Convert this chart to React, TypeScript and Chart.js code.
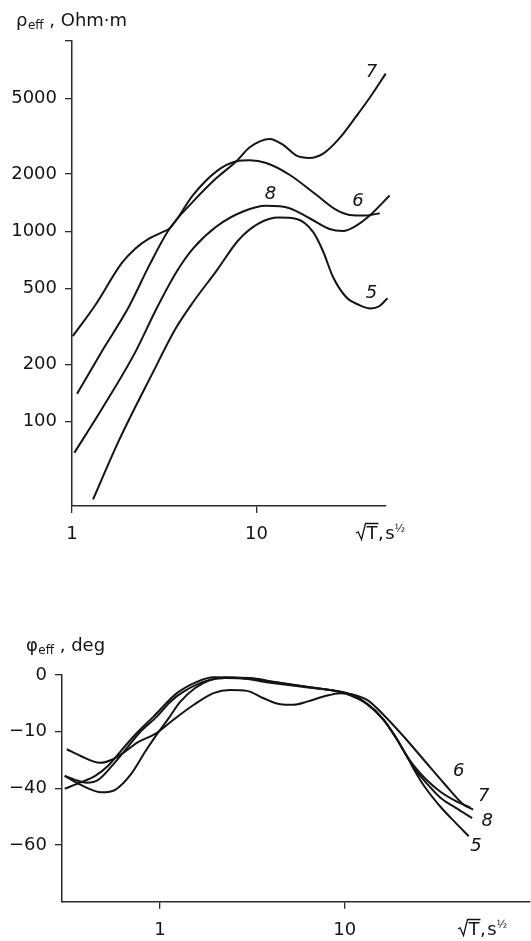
import React, { useEffect, useRef } from 'react';
import { Chart, registerables } from 'chart.js';

Chart.register(...registerables);

const INK = '#141414';
const AXIS_INK = '#2b2b2b';
const FAMILY = '"DejaVu Sans", "Liberation Sans", Arial, sans-serif';

// Effective resistivity ρeff (Ohm·m) against √T (s^½), curves 5–8
const rho5T = [1.3, 1.78, 2.72, 3.66, 4.54, 6.07, 8.0, 10.3, 13.2, 16.5, 20.3, 22.9, 26.0, 30.7, 36.0, 41.5, 46.5, 51.3];
const rho5 = [39, 78, 178, 310, 425, 620, 900, 1100, 1180, 1160, 990, 790, 575, 450, 410, 393, 405, 445];
const rho6T = [1.01, 1.33, 1.86, 2.2, 2.64, 3.09, 3.39, 4.54, 6.07, 7.79, 9.2, 11.3, 15.1, 21.1, 27.1, 32.0, 39.4, 46.6];
const rho6 = [281, 406, 680, 810, 920, 990, 1037, 1555, 2065, 2332, 2361, 2285, 1982, 1555, 1295, 1219, 1210, 1245];
const rho7T = [1.065, 1.44, 2.03, 2.64, 3.39, 4.54, 6.07, 7.79, 9.2, 11.8, 13.9, 16.5, 19.4, 23.0, 28.3, 34.8, 41.1, 50.2];
const rho7 = [140, 231, 400, 670, 1037, 1435, 1904, 2332, 2765, 3058, 2853, 2497, 2430, 2560, 3096, 4030, 5033, 6740];
const rho8T = [1.03, 1.44, 2.2, 2.87, 3.69, 4.54, 6.07, 8.46, 11.3, 15.1, 19.4, 24.9, 29.5, 34.8, 41.1, 52.7];
const rho8 = [68.6, 115, 231, 392, 613, 813, 1059, 1270, 1360, 1322, 1171, 1028, 1004, 1072, 1210, 1543];

// Effective phase φeff (deg) against √T (s^½), curves 5–8
const phi5T = [0.313, 0.37, 0.474, 0.549, 0.622, 0.765, 0.942, 1.183, 1.519, 1.949, 2.401, 2.956, 3.637, 4.479, 5.287, 6.25, 7.688, 9.467, 11.13, 13.21, 16.24, 18.8, 21.76, 24.13, 27.33, 32.95, 39.72, 46.9];
const phi5 = [-26.2, -28.5, -31.0, -29.9, -27.8, -23.6, -20.8, -15.8, -10.6, -6.4, -5.3, -5.6, -8.2, -10.3, -10.5, -9.4, -7.6, -6.4, -7.0, -10.2, -15.8, -21.8, -28.8, -34.2, -39.8, -46.5, -52.1, -56.9];
const phi6T = [0.305, 0.37, 0.446, 0.524, 0.609, 0.734, 0.922, 1.235, 1.585, 1.949, 2.61, 3.954, 5.748, 8.675, 10.33, 13.21, 16.24, 20.85, 26.76, 34.34, 44.07, 49.55];
const phi6 = [-40.1, -38.0, -35.6, -32.0, -27.1, -21.1, -14.7, -6.4, -2.4, -0.8, -0.95, -2.7, -4.1, -5.5, -6.4, -8.8, -14.1, -21.7, -29.9, -38.1, -45.8, -47.5];
const phi7T = [0.305, 0.347, 0.403, 0.463, 0.551, 0.662, 0.781, 0.962, 1.136, 1.341, 1.795, 2.256, 3.08, 4.105, 6.25, 8.675, 10.33, 13.21, 16.24, 18.8, 21.76, 24.13, 27.33, 32.95, 39.72, 47.9];
const phi7 = [-35.6, -37.0, -38.0, -37.0, -32.0, -25.8, -20.1, -14.7, -9.5, -5.9, -2.0, -1.06, -1.4, -2.46, -4.23, -5.5, -6.7, -10.2, -15.8, -21.8, -28.8, -32.7, -36.6, -41.2, -44.4, -46.8];
const phi8T = [0.305, 0.37, 0.484, 0.572, 0.704, 0.831, 0.966, 1.108, 1.286, 1.551, 1.87, 2.256, 3.08, 4.105, 6.25, 8.675, 10.33, 13.21, 16.24, 18.8, 21.76, 24.13, 27.33, 32.95, 39.72, 48.93];
const phi8 = [-35.6, -38.7, -41.4, -40.5, -34.6, -27.1, -20.8, -15.5, -9.5, -4.58, -1.76, -0.88, -1.06, -2.36, -4.12, -5.5, -6.7, -10.2, -15.8, -21.8, -28.8, -33.5, -37.7, -43.3, -46.8, -50.5];

// Axis ticks and their printed labels
const PERIOD_TICKS = [1, 10];
const PERIOD_TICK_LABELS = ['1', '10'];
const RHO_TICKS = [100, 200, 500, 1000, 2000, 5000, 10000];
const RHO_TICK_LABELS = ['100', '200', '500', '1000', '2000', '5000', ''];
const PHI_TICKS = [0, -20, -40, -60];
const PHI_TICK_LABELS = ['0', '−10', '−40', '−60'];

// Curve numbers and where they are written
const CURVE_NAMES = ['5', '6', '7', '8'];
const rhoLabelT = [42.0, 35.5, 42.0, 11.9];
const rhoLabelV = [471, 1435, 6821, 1567];
const phiLabelT = [51.4, 41.4, 56.6, 59.0];
const phiLabelV = [-60.5, -34.0, -42.9, -51.7];

const pts = (ts: number[], vs: number[]) => ts.map((t, i) => ({ x: t, y: vs[i] }));

const curve = (name: string, ts: number[], vs: number[]) => ({
  label: name,
  data: pts(ts, vs),
  borderColor: INK,
  borderWidth: 2,
  pointRadius: 0,
  fill: false,
  cubicInterpolationMode: 'monotone' as const,
  clip: false as const,
});

const axisStyle = {
  grid: { display: true, drawOnChartArea: false, drawTicks: true, tickLength: 7, color: AXIS_INK, lineWidth: 1.3 },
  border: { display: true, color: AXIS_INK, width: 1.5 },
};

const tickFont = { family: FAMILY, size: 18 };

function drawQuantityTitle(ctx: CanvasRenderingContext2D, x: number, base: number, symbol: string, unit: string) {
  ctx.fillStyle = INK;
  ctx.textAlign = 'left';
  ctx.textBaseline = 'alphabetic';
  ctx.font = `18px ${FAMILY}`;
  ctx.fillText(symbol, x, base);
  let cx = x + ctx.measureText(symbol).width;
  ctx.font = `12px ${FAMILY}`;
  ctx.fillText('eff', cx + 0.5, base + 3.5);
  cx += ctx.measureText('eff').width + 0.5;
  ctx.font = `18px ${FAMILY}`;
  ctx.fillText(' , ' + unit, cx, base);
}

function drawRootPeriodTitle(ctx: CanvasRenderingContext2D, x: number, base: number) {
  ctx.fillStyle = INK;
  ctx.strokeStyle = INK;
  ctx.textAlign = 'left';
  ctx.textBaseline = 'alphabetic';
  ctx.font = `18px ${FAMILY}`;
  const wT = ctx.measureText('T').width;
  const top = base - 15.5;
  const tx = x + 10.5;
  ctx.lineWidth = 1.3;
  ctx.beginPath();
  ctx.moveTo(x, base - 6);
  ctx.lineTo(x + 2.2, base - 7.2);
  ctx.lineTo(x + 5.5, base + 0.5);
  ctx.lineTo(x + 9.5, top);
  ctx.lineTo(tx + wT + 1, top);
  ctx.stroke();
  ctx.fillText('T', tx, base);
  let cx = tx + wT + 0.5;
  ctx.fillText(',', cx, base);
  cx += ctx.measureText(',').width + 1.5;
  ctx.fillText('s', cx, base);
  cx += ctx.measureText('s').width;
  ctx.font = `11px ${FAMILY}`;
  ctx.fillText('½', cx, base - 7);
}

function drawCurveNames(ctx: CanvasRenderingContext2D, chart: any, ts: number[], vs: number[]) {
  const xs = chart.scales.x;
  const ys = chart.scales.y;
  ctx.fillStyle = INK;
  ctx.font = `italic 18px ${FAMILY}`;
  ctx.textAlign = 'center';
  ctx.textBaseline = 'middle';
  CURVE_NAMES.forEach((n, i) => {
    ctx.fillText(n, xs.getPixelForValue(ts[i]), ys.getPixelForValue(vs[i]));
  });
}

const RHO_W = 531;
const RHO_H = 560;
const PHI_W = 531;
const PHI_H = 381;

export default function App() {
  const rhoRef = useRef<HTMLCanvasElement>(null);
  const phiRef = useRef<HTMLCanvasElement>(null);

  useEffect(() => {
    if (!rhoRef.current || !phiRef.current) return;

    const rhoChart = new Chart(rhoRef.current, {
      type: 'line',
      data: {
        datasets: [
          curve('5', rho5T, rho5),
          curve('6', rho6T, rho6),
          curve('7', rho7T, rho7),
          curve('8', rho8T, rho8),
        ],
      },
      options: {
        responsive: false,
        animation: false,
        events: [],
        layout: { padding: { top: 41, right: RHO_W - 385.4, left: 0, bottom: 0 } },
        plugins: { legend: { display: false }, tooltip: { enabled: false } },
        scales: {
          x: {
            type: 'logarithmic',
            min: 1,
            max: 50,
            afterBuildTicks: (s: any) => { s.ticks = PERIOD_TICKS.map((v) => ({ value: v })); },
            afterFit: (s: any) => { s.height = RHO_H - 506; },
            ticks: {
              autoSkip: false, maxRotation: 0, padding: 11, color: INK, font: tickFont,
              callback: (_v: any, i: number) => PERIOD_TICK_LABELS[i],
            },
            ...axisStyle,
          },
          y: {
            type: 'logarithmic',
            min: 36,
            max: 10000,
            afterBuildTicks: (s: any) => { s.ticks = RHO_TICKS.map((v) => ({ value: v })); },
            afterFit: (s: any) => { s.width = 72; },
            ticks: {
              autoSkip: false, padding: 8, color: INK, font: tickFont,
              callback: (_v: any, i: number) => RHO_TICK_LABELS[i],
            },
            ...axisStyle,
          },
        },
      },
      plugins: [{
        id: 'rhoText',
        afterDraw(chart: any) {
          const ctx = chart.ctx as CanvasRenderingContext2D;
          ctx.save();
          drawCurveNames(ctx, chart, rhoLabelT, rhoLabelV);
          drawQuantityTitle(ctx, 16, 25.5, 'ρ', 'Ohm·m');
          drawRootPeriodTitle(ctx, 356, 539);
          ctx.restore();
        },
      }],
    } as any);

    const phiChart = new Chart(phiRef.current, {
      type: 'line',
      data: {
        datasets: [
          curve('5', phi5T, phi5),
          curve('6', phi6T, phi6),
          curve('7', phi7T, phi7),
          curve('8', phi8T, phi8),
        ],
      },
      options: {
        responsive: false,
        animation: false,
        events: [],
        layout: { padding: { top: 115, right: 1.5, left: 0, bottom: 0 } },
        plugins: { legend: { display: false }, tooltip: { enabled: false } },
        scales: {
          x: {
            type: 'logarithmic',
            min: 0.295,
            max: 100,
            afterBuildTicks: (s: any) => { s.ticks = PERIOD_TICKS.map((v) => ({ value: v })); },
            afterFit: (s: any) => { s.height = PHI_H - 341.7; },
            ticks: {
              autoSkip: false, maxRotation: 0, padding: 11, color: INK, font: tickFont,
              callback: (_v: any, i: number) => PERIOD_TICK_LABELS[i],
            },
            ...axisStyle,
          },
          y: {
            type: 'linear',
            min: -80,
            max: 0,
            afterBuildTicks: (s: any) => { s.ticks = PHI_TICKS.map((v) => ({ value: v })); },
            afterFit: (s: any) => { s.width = 62; },
            ticks: {
              autoSkip: false, padding: 8, color: INK, font: tickFont,
              callback: (_v: any, i: number) => PHI_TICK_LABELS[i],
            },
            ...axisStyle,
          },
        },
      },
      plugins: [{
        id: 'phiText',
        afterDraw(chart: any) {
          const ctx = chart.ctx as CanvasRenderingContext2D;
          ctx.save();
          drawCurveNames(ctx, chart, phiLabelT, phiLabelV);
          drawQuantityTitle(ctx, 26, 90.7, 'φ', 'deg');
          drawRootPeriodTitle(ctx, 458, 375);
          ctx.restore();
        },
      }],
    } as any);

    return () => {
      rhoChart.destroy();
      phiChart.destroy();
    };
  }, []);

  return (
    <div style={{ position: 'absolute', left: 0, top: 0, width: 531, height: 941, background: '#fff' }}>
      <canvas ref={rhoRef} width={RHO_W} height={RHO_H}
        style={{ position: 'absolute', left: 0, top: 0, width: RHO_W, height: RHO_H, display: 'block' }} />
      <canvas ref={phiRef} width={PHI_W} height={PHI_H}
        style={{ position: 'absolute', left: 0, top: 560, width: PHI_W, height: PHI_H, display: 'block' }} />
    </div>
  );
}
